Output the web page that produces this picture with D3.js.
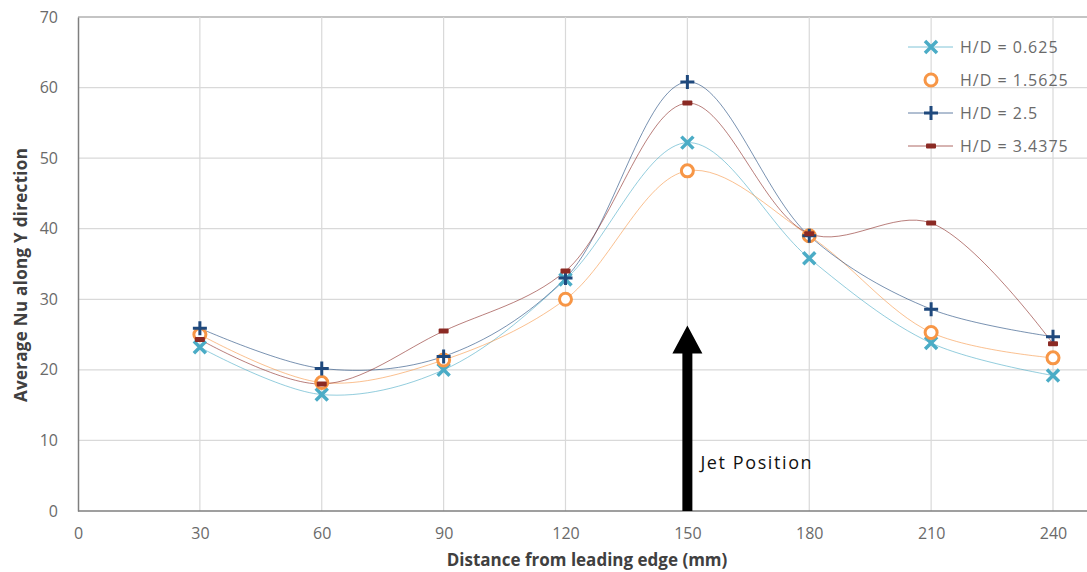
<!DOCTYPE html>
<html>
<head>
<meta charset="utf-8">
<script src="https://cdn.jsdelivr.net/npm/d3@7"></script>
<style>
  body { margin: 0; background: #fff; }
  svg { display: block; font-family: "Open Sans", sans-serif; }
</style>
</head>
<body>
<svg width="1087" height="572"></svg>
<script>
// data
var distances = [30, 60, 90, 120, 150, 180, 210, 240];
var nu0625  = [23.2, 16.5, 20.0, 32.8, 52.2, 35.8, 23.8, 19.2];
var nu15625 = [25.0, 18.2, 21.4, 30.0, 48.2, 39.0, 25.3, 21.7];
var nu25    = [25.9, 20.2, 21.9, 33.0, 60.8, 39.0, 28.6, 24.7];
var nu34375 = [24.3, 18.0, 25.5, 34.0, 57.8, 39.3, 40.8, 23.7];
var seriesNames = ["H/D = 0.625", "H/D = 1.5625", "H/D = 2.5", "H/D = 3.4375"];
var xTicks = [0, 30, 60, 90, 120, 150, 180, 210, 240];
var yTicks = [0, 10, 20, 30, 40, 50, 60, 70];
var jetX = 150, jetTop = 26.3;

var svg = d3.select("svg"),
    margin = {top: 17, right: 0, bottom: 61, left: 78},
    width = +svg.attr("width") - margin.left - margin.right,
    height = +svg.attr("height") - margin.top - margin.bottom;

var x = d3.scaleLinear().domain([0, 240]).range([0, 975]),
    y = d3.scaleLinear().domain([0, 70]).range([height, 0]);

var g = svg.append("g")
    .attr("transform", "translate(" + margin.left + "," + margin.top + ")");

// grid
g.selectAll(".hgrid").data(yTicks.slice(1))
  .enter().append("line")
    .attr("x1", 0).attr("x2", width)
    .attr("y1", function(d) { return y(d); }).attr("y2", function(d) { return y(d); })
    .attr("stroke", function(d) { return d == 70 ? "#8a8a8a" : "#d9d9d9"; })
    .attr("stroke-width", 1.2);
g.selectAll(".vgrid").data(xTicks.slice(1))
  .enter().append("line")
    .attr("y1", 0).attr("y2", height)
    .attr("x1", function(d) { return x(d); }).attr("x2", function(d) { return x(d); })
    .attr("stroke", "#d9d9d9").attr("stroke-width", 1.2);

// axes
var xAxis = g.append("g")
    .attr("transform", "translate(0," + height + ")")
    .call(d3.axisBottom(x).tickValues(xTicks).tickSize(0).tickPadding(17));
var yAxis = g.append("g")
    .call(d3.axisLeft(y).tickValues(yTicks).tickSize(0).tickPadding(20));
[xAxis, yAxis].forEach(function(a) {
  a.select(".domain").attr("stroke", "#7f7f7f").attr("stroke-width", 1.5);
  a.selectAll("text").attr("fill", "#6a6a6a").style("font-size", "16px")
    .style("font-family", "'Open Sans', sans-serif");
});
xAxis.select(".domain").attr("d", "M0,0H" + width);

svg.append("text")
    .attr("x", 587).attr("y", 566)
    .attr("text-anchor", "middle")
    .attr("fill", "#404040").style("font-size", "17px").style("font-weight", "bold")
    .text("Distance from leading edge (mm)");
svg.append("text")
    .attr("transform", "translate(27,275) rotate(-90)")
    .attr("text-anchor", "middle")
    .attr("fill", "#404040").style("font-size", "17px").style("font-weight", "bold")
    .style("letter-spacing", "0.3px")
    .text("Average Nu along Y direction");

// jet arrow
var ax = x(jetX), ay = y(jetTop), ab = y(0);
g.append("path")
    .attr("d", "M" + (ax - 5) + "," + ab + "V" + (ay + 28) + "H" + (ax - 15) +
         "L" + ax + "," + ay + "L" + (ax + 15) + "," + (ay + 28) + "H" + (ax + 5) + "V" + ab + "Z")
    .attr("fill", "#000");
g.append("text")
    .attr("x", ax + 13).attr("y", y(6.0))
    .attr("fill", "#111").style("font-size", "18px").style("letter-spacing", "1.6px")
    .text("Jet Position");

// series
var series = [
  {name: seriesNames[0], values: nu0625, color: "#4bacc6", marker: "x"},
  {name: seriesNames[1], values: nu15625, color: "#f79646", marker: "o"},
  {name: seriesNames[2], values: nu25, color: "#1f497d", marker: "+"},
  {name: seriesNames[3], values: nu34375, color: "#8b2a24", marker: "-"}
];

var line = d3.line()
    .x(function(d, i) { return x(distances[i]); })
    .y(function(d) { return y(d); })
    .curve(d3.curveCatmullRom.alpha(0.5));

function drawMarker(sel, s) {
  if (s.marker == "x") {
    sel.append("path").attr("d", "M-6,-6L6,6M-6,6L6,-6")
      .attr("stroke", s.color).attr("stroke-width", 3.5).attr("fill", "none");
  } else if (s.marker == "o") {
    sel.append("circle").attr("r", 6)
      .attr("stroke", s.color).attr("stroke-width", 3).attr("fill", "#fff");
  } else if (s.marker == "+") {
    sel.append("path").attr("d", "M-7,0H7M0,-7V7")
      .attr("stroke", s.color).attr("stroke-width", 3).attr("fill", "none");
  } else {
    sel.append("rect").attr("x", -5).attr("y", -2.5).attr("width", 10).attr("height", 5)
      .attr("rx", 1).attr("fill", s.color);
  }
}

series.forEach(function(s) {
  g.append("path")
      .datum(s.values)
      .attr("d", line)
      .attr("fill", "none")
      .attr("stroke", s.color)
      .attr("stroke-opacity", 0.6)
      .attr("stroke-width", 1);
});
series.forEach(function(s) {
  s.values.forEach(function(v, i) {
    var m = g.append("g").attr("transform", "translate(" + x(distances[i]) + "," + y(v) + ")");
    drawMarker(m, s);
  });
});

// legend
var legend = svg.append("g").attr("transform", "translate(908,47)");
series.forEach(function(s, i) {
  var row = legend.append("g").attr("transform", "translate(0," + (i * 33) + ")");
  if (s.marker != "o") {
    row.append("line").attr("x1", 0).attr("x2", 45)
      .attr("stroke", s.color).attr("stroke-width", 1).attr("stroke-opacity", 0.7);
  }
  drawMarker(row.append("g").attr("transform", "translate(23,0)"), s);
  row.append("text").attr("x", 52).attr("y", 6)
    .attr("fill", "#6a6a6a").style("font-size", "16px").style("letter-spacing", "1px")
    .text(s.name);
});
</script>
</body>
</html>
